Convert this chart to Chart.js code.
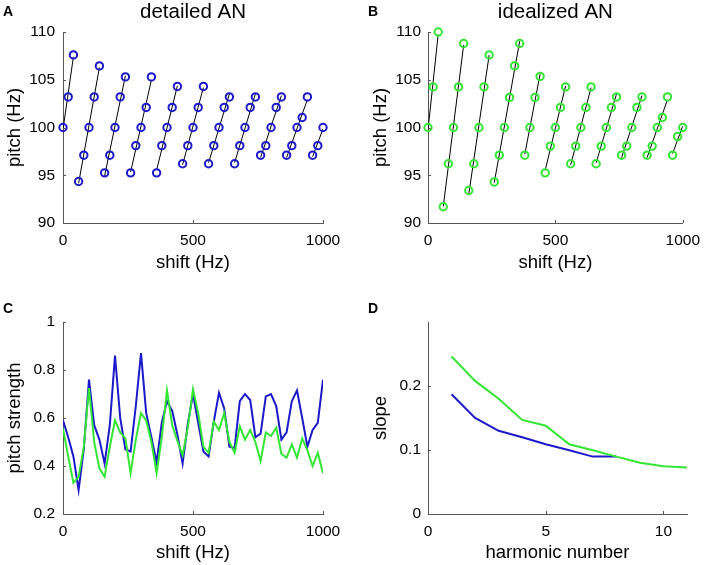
<!DOCTYPE html>
<html><head><meta charset="utf-8">
<script src="https://cdn.jsdelivr.net/npm/chart.js@4/dist/chart.umd.min.js"></script>
<style>
html,body{margin:0;padding:0;background:#fff;width:708px;height:565px;overflow:hidden;}
.c{position:absolute;}
.lab{position:absolute;font:bold 14px "Liberation Sans",Arial,sans-serif;color:#000;line-height:14px;}
</style></head><body>
<div class="c" style="left:0;top:0"><canvas id="cA" width="354" height="290"></canvas></div>
<div class="c" style="left:354px;top:0"><canvas id="cB" width="354" height="290"></canvas></div>
<div class="c" style="left:0;top:290px"><canvas id="cC" width="354" height="275"></canvas></div>
<div class="c" style="left:354px;top:290px"><canvas id="cD" width="354" height="275"></canvas></div>
<div class="lab" style="left:3px;top:4px">A</div>
<div class="lab" style="left:368px;top:4px">B</div>
<div class="lab" style="left:3px;top:301px">C</div>
<div class="lab" style="left:368px;top:301px">D</div>
<script>
// ---------- data ----------
const shiftHz = [0,20,40,60,80,100,120,140,160,180,200,220,240,260,280,300,320,340,360,380,400,420,440,460,480,500,520,540,560,580,600,620,640,660,680,700,720,740,760,780,800,820,840,860,880,900,920,940,960,980,1000];

const pitchDetailed = [100,103.2,107.6, 94.35,97.1,100,103.2,106.45, 95.25,97.1,100,103.2,105.3, 95.25,98.1,100,102.1,105.3, 95.25,98.1,100,102.1,104.3, 96.2,98.1,100,102.1,104.3, 96.2,98.1,100,102.1,103.2, 96.2,98.1,100,102.1,103.2, 97.1,98.1,100,102.1,103.2, 97.1,98.1,100,101.05,103.2, 97.1,98.1,100];
const groupStartDetailed = [0,60,160,260,360,460,560,660,760,860,960];
const groupEndDetailed   = [40,140,240,340,440,540,640,740,840,940,1000];

const pitchIdealized = [100,104.25,110, 91.7,96.2,100,104.25,108.8, 93.4,96.2,100,104.25,107.6, 94.3,97.1,100,103.15,106.45,108.8, 97.1,100,103.15,105.35, 95.25,98.05,100,102.1,104.25, 96.2,98.05,100,102.1,104.25, 96.2,98.05,100,102.1,103.2, 97.1,98.05,100,102.1,103.2, 97.1,98.05,100,101.05,103.2, 97.1,99.05,100];
const groupStartIdealized = [0,60,160,260,380,460,560,660,760,860,960];
const groupEndIdealized   = [40,140,240,360,440,540,640,740,840,940,1000];

const strengthDetailed = [0.59,0.52,0.44,0.30,0.47,0.76,0.57,0.51,0.41,0.57,0.86,0.60,0.47,0.46,0.65,0.87,0.62,0.52,0.415,0.58,0.67,0.63,0.53,0.41,0.575,0.70,0.58,0.46,0.44,0.585,0.705,0.64,0.48,0.475,0.67,0.70,0.675,0.52,0.535,0.69,0.70,0.65,0.51,0.54,0.67,0.715,0.60,0.48,0.55,0.58,0.76];
const strengthIdealized = [0.555,0.44,0.33,0.355,0.48,0.725,0.50,0.39,0.355,0.48,0.59,0.54,0.515,0.37,0.51,0.62,0.59,0.50,0.37,0.52,0.715,0.57,0.505,0.445,0.56,0.72,0.62,0.48,0.455,0.585,0.55,0.62,0.50,0.455,0.565,0.51,0.55,0.50,0.42,0.54,0.525,0.56,0.45,0.435,0.49,0.435,0.515,0.465,0.40,0.455,0.37];

const harmonicNumber = [1,2,3,4,5,6,7,8,9,10,11];
const slopeDetailed  = [0.187,0.150,0.130,0.120,0.109,0.0995,0.0897,0.0897];
const slopeIdealized = [0.246,0.208,0.180,0.147,0.138,0.109,0.0995,0.0897,0.080,0.0747,0.0727];

const xTicksShift = [0,500,1000];
const yTicksPitch = [90,95,100,105,110];
const yTicksStrength = [0.2,0.4,0.6,0.8,1];
const xTicksHarm = [0,5,10];
const yTicksSlope = [0,0.1,0.2];

// ---------- style ----------
const BLUE = '#1a1ac8', GREEN = '#33e633', AXIS = '#555555';
const FONT = '"Liberation Sans", Arial, sans-serif';

const inwardTicks = {
  id: 'inwardTicks',
  afterDraw(chart, args, opts) {
    const ctx = chart.ctx, ca = chart.chartArea;
    ctx.save(); ctx.strokeStyle = AXIS; ctx.lineWidth = 1;
    const xs = chart.scales.x, ys = chart.scales.y;
    (opts.xt || []).forEach(v => {
      const p = Math.round(xs.getPixelForValue(v)) + 0.5;
      ctx.beginPath(); ctx.moveTo(p, ca.bottom); ctx.lineTo(p, ca.bottom - 3); ctx.stroke();
    });
    (opts.yt || []).forEach(v => {
      const p = Math.round(ys.getPixelForValue(v)) + 0.5;
      ctx.beginPath(); ctx.moveTo(ca.left, p); ctx.lineTo(ca.left + 3, p); ctx.stroke();
    });
    ctx.restore();
  }
};

function fitSegments(xs, ys, starts, ends) {
  return starts.map((a, g) => {
    const b = ends[g];
    const px = [], py = [];
    xs.forEach((s, i) => { if (s >= a && s <= b) { px.push(s); py.push(ys[i]); } });
    const n = px.length;
    const mx = px.reduce((s, v) => s + v, 0) / n, my = py.reduce((s, v) => s + v, 0) / n;
    let sxy = 0, sxx = 0;
    for (let i = 0; i < n; i++) { sxy += (px[i] - mx) * (py[i] - my); sxx += (px[i] - mx) ** 2; }
    const k = sxy / sxx;
    return [{x: a, y: my + k * (a - mx)}, {x: b, y: my + k * (b - mx)}];
  });
}

function pairs(xs, ys) { return ys.map((v, i) => ({x: xs[i], y: v})); }

function axisCfg(o) {
  return {
    type: 'linear', min: o.min, max: o.max,
    grid: {display: false, drawTicks: false},
    border: {display: true, color: AXIS, width: 1},
    ticks: {
      stepSize: o.step, includeBounds: false, padding: o.pad, color: '#000',
      font: {family: FONT, size: 15.5},
      autoSkip: false, maxRotation: 0,
      callback: o.cb || (v => String(Math.round(v * 1000) / 1000))
    },
    title: {display: true, text: o.title, color: '#000', font: {family: FONT, size: 18.5}, padding: o.tpad},
    afterFit: o.fit
  };
}

function makeChart(id, o) {
  return new Chart(document.getElementById(id), {
    type: 'scatter',
    data: {datasets: o.datasets},
    options: {
      responsive: false, animation: false,
      layout: {padding: {left: 0, right: o.padRight, top: o.padTop, bottom: 0}},
      plugins: {
        legend: {display: false}, tooltip: {enabled: false},
        title: o.title ? {display: true, text: o.title, fullSize: false, color: '#000',
          font: {family: FONT, size: 20.5, weight: 'normal'}, padding: {top: 0, bottom: 7.4}} : {display: false},
        inwardTicks: {xt: o.xt, yt: o.yt}
      },
      scales: {x: o.x, y: o.y}
    },
    plugins: [inwardTicks]
  });
}

function pitchDatasets(pitches, starts, ends, color) {
  const ds = [{
    data: pairs(shiftHz, pitches), showLine: false, order: 0, clip: false,
    pointStyle: 'circle', pointRadius: 3.7, pointBorderWidth: 2,
    pointBorderColor: color, pointBackgroundColor: 'rgba(0,0,0,0)'
  }];
  fitSegments(shiftHz, pitches, starts, ends).forEach(seg => ds.push({
    data: seg, showLine: true, borderColor: '#000', borderWidth: 1, pointRadius: 0, order: 1
  }));
  return ds;
}

// A
makeChart('cA', {
  title: 'detailed AN', padRight: 31, padTop: 0,
  datasets: pitchDatasets(pitchDetailed, groupStartDetailed, groupEndDetailed, BLUE),
  xt: xTicksShift, yt: yTicksPitch,
  x: axisCfg({min: 0, max: 1000, step: 500, pad: 8, title: 'shift (Hz)', tpad: {top: 0, bottom: 16}, fit: s => { s.height = 67; }}),
  y: axisCfg({min: 90, max: 110, step: 5, pad: 8, title: 'pitch (Hz)', tpad: {top: 4, bottom: 0}, fit: s => { s.width = 63; }})
});
// B
makeChart('cB', {
  title: 'idealized AN', padRight: 21, padTop: 0,
  datasets: pitchDatasets(pitchIdealized, groupStartIdealized, groupEndIdealized, GREEN),
  xt: xTicksShift, yt: yTicksPitch,
  x: axisCfg({min: 0, max: 1000, step: 500, pad: 8, title: 'shift (Hz)', tpad: {top: 0, bottom: 16}, fit: s => { s.height = 67; }}),
  y: axisCfg({min: 90, max: 110, step: 5, pad: 7, title: 'pitch (Hz)', tpad: {top: 16, bottom: 0}, fit: s => { s.width = 74; }})
});
// C
makeChart('cC', {
  padRight: 31, padTop: 32,
  datasets: [
    {data: pairs(shiftHz, strengthIdealized), showLine: true, borderColor: GREEN, borderWidth: 2, pointRadius: 0, order: 0},
    {data: pairs(shiftHz, strengthDetailed), showLine: true, borderColor: BLUE, borderWidth: 2, pointRadius: 0, order: 1}
  ],
  xt: xTicksShift, yt: yTicksStrength,
  x: axisCfg({min: 0, max: 1000, step: 500, pad: 8, title: 'shift (Hz)', tpad: {top: 0, bottom: 1}, fit: s => { s.height = 51; }}),
  y: axisCfg({min: 0.2, max: 1, step: 0.2, pad: 8, title: 'pitch strength', tpad: {top: 4, bottom: 0}, fit: s => { s.width = 63; }})
});
// D
makeChart('cD', {
  padRight: 21, padTop: 32,
  datasets: [
    {data: pairs(harmonicNumber, slopeIdealized), showLine: true, borderColor: GREEN, borderWidth: 2, pointRadius: 0, order: 0},
    {data: pairs(harmonicNumber, slopeDetailed), showLine: true, borderColor: BLUE, borderWidth: 2, pointRadius: 0, order: 1}
  ],
  xt: xTicksHarm, yt: yTicksSlope,
  x: axisCfg({min: 0, max: 11, step: 5, pad: 8, title: 'harmonic number', tpad: {top: 0, bottom: 1}, fit: s => { s.height = 51; }}),
  y: axisCfg({min: 0, max: 0.3, step: 0.1, pad: 7, title: 'slope', tpad: {top: 16, bottom: 0}, fit: s => { s.width = 74; },
    cb: v => (yTicksSlope.some(t => Math.abs(t - v) < 1e-9) ? String(Math.round(v * 10) / 10) : '')})
});
</script>
</body></html>
